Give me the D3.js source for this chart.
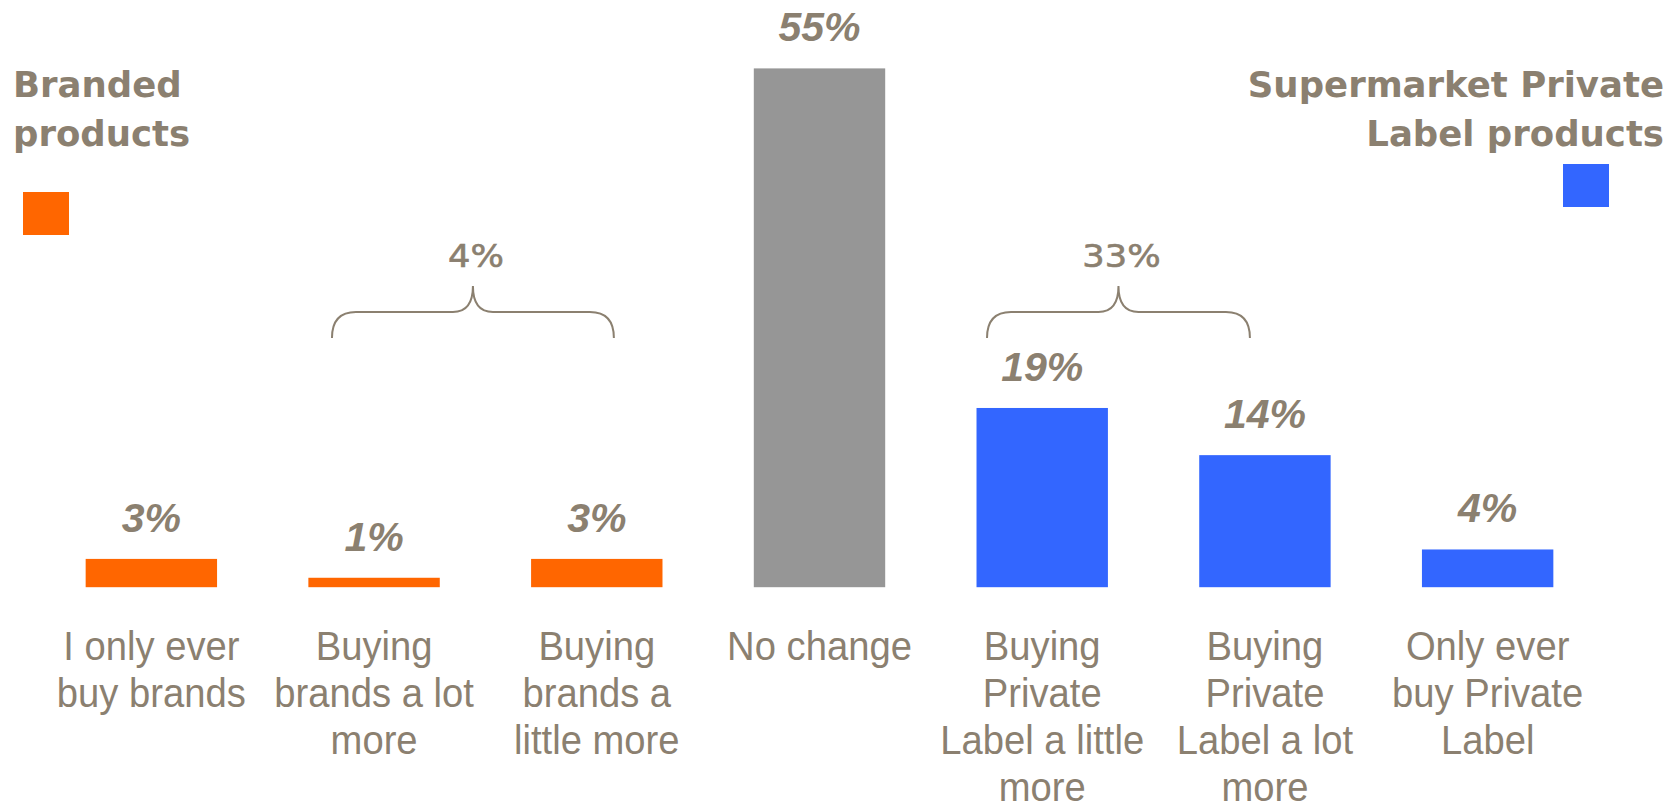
<!DOCTYPE html>
<html>
<head>
<meta charset="utf-8">
<script src="https://cdn.jsdelivr.net/npm/d3@7"></script>
<style>
  html, body { margin: 0; padding: 0; background: #ffffff; }
  svg { display: block; }
</style>
</head>
<body>
<svg id="chart" width="1677" height="804"></svg>
<script>
// Survey answers, left (branded) to right (private label)
const categories = [
  "I only ever buy brands",
  "Buying brands a lot more",
  "Buying brands a little more",
  "No change",
  "Buying Private Label a little more",
  "Buying Private Label a lot more",
  "Only ever buy Private Label"
];
const categoryLines = [
  ["I only ever", "buy brands"],
  ["Buying", "brands a lot", "more"],
  ["Buying", "brands a", "little more"],
  ["No change"],
  ["Buying", "Private", "Label a little", "more"],
  ["Buying", "Private", "Label a lot", "more"],
  ["Only ever", "buy Private", "Label"]
];
const values = [3, 1, 3, 55, 19, 14, 4];
const groups = ["brand", "brand", "brand", "none", "private", "private", "private"];
const valueLabels = ["3%", "1%", "3%", "55%", "19%", "14%", "4%"];

// Bracketed sub-totals
const braceFirst = [1, 4];
const braceLast = [2, 5];
const braceTotals = ["4%", "33%"];

const legendTitles = [["Branded", "products"], ["Supermarket Private", "Label products"]];

const colors = { brand: "#FF6600", none: "#969696", private: "#3366FF" };
const textColor = "#8B8070";

const svg = d3.select("#chart");

const x = d3.scaleBand()
  .domain(categories)
  .range([40, 1599])
  .paddingInner(0.41)
  .paddingOuter(0.205);

const y = d3.scaleLinear().domain([0, 55]).range([587.2, 68.4]);

// Bars
svg.append("g").selectAll("rect")
  .data(values)
  .join("rect")
  .attr("x", (d, i) => x(categories[i]))
  .attr("y", d => y(d))
  .attr("width", x.bandwidth())
  .attr("height", d => y(0) - y(d))
  .attr("fill", (d, i) => colors[groups[i]]);

// Value labels
svg.append("g").selectAll("text")
  .data(values)
  .join("text")
  .attr("x", (d, i) => x(categories[i]) + x.bandwidth() / 2)
  .attr("y", d => y(d) - 27)
  .attr("text-anchor", "middle")
  .attr("fill", textColor)
  .style("font-family", "'Liberation Sans', Arial, sans-serif")
  .style("font-weight", "bold")
  .style("font-style", "italic")
  .style("font-size", "41px")
  .text((d, i) => valueLabels[i]);

// Category axis with multi-line labels
const axis = svg.append("g")
  .attr("transform", `translate(0,${y(0)})`)
  .call(d3.axisBottom(x).tickSize(0).tickFormat(""));
axis.select(".domain").remove();

const lineHeight = 47;
axis.selectAll(".tick").each(function(d, i) {
  const t = d3.select(this).append("text")
    .attr("transform", "translate(0,73) scale(0.955,1)")
    .attr("text-anchor", "middle")
    .attr("fill", textColor)
    .style("font-family", "'Liberation Sans', Arial, sans-serif")
    .style("font-size", "40px");
  categoryLines[i].forEach((line, k) => {
    t.append("tspan").attr("x", 0).attr("y", k * lineHeight).text(line);
  });
});

// Braces over grouped bars
const braceStartOffset = [23.6, 10.5];
const braceEndOffset = [48.6, 80.7];
const yTip = 286, yBar = 312, yEnd = 338, r = 24, tipW = 20;
braceFirst.forEach((f, j) => {
  const x0 = x(categories[f]) + braceStartOffset[j];
  const x1 = x(categories[braceLast[j]]) + x.bandwidth() - braceEndOffset[j];
  const xm = (x0 + x1) / 2;
  const p = d3.path();
  p.moveTo(x0, yEnd);
  p.quadraticCurveTo(x0, yBar, x0 + r, yBar);
  p.lineTo(xm - tipW, yBar);
  p.quadraticCurveTo(xm, yBar, xm, yTip);
  p.quadraticCurveTo(xm, yBar, xm + tipW, yBar);
  p.lineTo(x1 - r, yBar);
  p.quadraticCurveTo(x1, yBar, x1, yEnd);
  svg.append("path")
    .attr("d", p.toString())
    .attr("fill", "none")
    .attr("stroke", textColor)
    .attr("stroke-width", 2);
  svg.append("text")
    .attr("transform", `translate(${xm + 3},267) scale(1.1,1)`)
    .attr("text-anchor", "middle")
    .attr("fill", textColor)
    .attr("stroke", textColor)
    .attr("stroke-width", 0.6)
    .style("font-family", "'DejaVu Sans', Verdana, sans-serif")
    .style("font-size", "32px")
    .text(braceTotals[j]);
});

// Legend titles and swatches
const legendFont = "'DejaVu Sans', Verdana, sans-serif";
const left = svg.append("text")
  .attr("fill", textColor)
  .style("font-family", legendFont)
  .style("font-weight", "bold")
  .style("font-size", "35.5px");
legendTitles[0].forEach((line, k) => {
  left.append("tspan").attr("x", 13).attr("y", 97 + k * 49).text(line);
});
const right = svg.append("text")
  .attr("fill", textColor)
  .attr("text-anchor", "end")
  .style("font-family", legendFont)
  .style("font-weight", "bold")
  .style("font-size", "35.5px");
legendTitles[1].forEach((line, k) => {
  right.append("tspan").attr("x", 1664).attr("y", 97 + k * 49).text(line);
});

svg.append("rect").attr("x", 23).attr("y", 192).attr("width", 46).attr("height", 43).attr("fill", colors.brand);
svg.append("rect").attr("x", 1563).attr("y", 164).attr("width", 46).attr("height", 43).attr("fill", colors.private);
</script>
</body>
</html>
